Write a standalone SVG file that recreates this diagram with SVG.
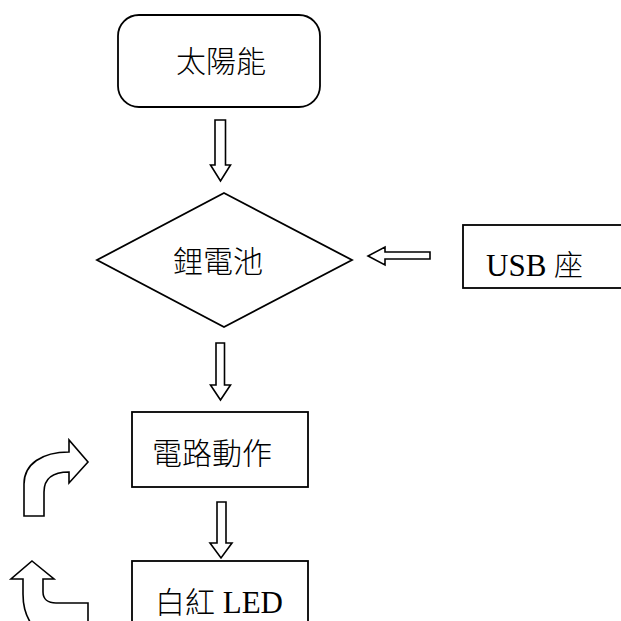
<svg xmlns="http://www.w3.org/2000/svg" width="621" height="621" viewBox="0 0 621 621">
<style>
.shape{fill:#fff;stroke:#000;stroke-width:1.8}
.arrow{fill:#fff;stroke:#000;stroke-width:1.6;stroke-linejoin:miter}
.cjk{font-family:"Noto Sans CJK TC","Noto Sans CJK SC",sans-serif;font-size:30px;font-weight:300;fill:#000}
.mix{font-family:"Liberation Serif","Noto Sans CJK TC",serif;font-size:31px;fill:#000}
.cj{font-family:"Noto Sans CJK TC","Noto Sans CJK SC",sans-serif;font-weight:300}
</style>
<rect width="621" height="621" fill="#fff"/>
<g id="solar">
<rect class="shape" x="118" y="15" width="202" height="92" rx="21" ry="21"/>
<text class="cjk" x="221" y="72" text-anchor="middle">太陽能</text>
</g>
<g id="battery">
<polygon class="shape" points="224,193 352,260 224,327 97,260"/>
<text class="cjk" x="218" y="272" text-anchor="middle">鋰電池</text>
</g>
<g id="usb">
<rect class="shape" x="463" y="225" width="160" height="63"/>
<text class="mix" x="486" y="276">USB <tspan class="cj" font-size="29">座</tspan></text>
</g>
<g id="circuit">
<rect class="shape" x="132" y="412" width="176" height="75"/>
<text class="cjk" x="152" y="464">電路動作</text>
</g>
<g id="led">
<rect class="shape" x="132" y="561" width="176" height="80"/>
<text class="mix" x="155" y="613"><tspan class="cj" font-size="30">白紅</tspan> LED</text>
</g>
<g id="connectors">
<polygon class="arrow" points="215,120 225.5,120 225.5,165 230.5,165 220.5,181 210.5,165 215,165"/>
<polygon class="arrow" points="216,343 224.5,343 224.5,385 230.5,385 220.5,400 210.5,385 216,385"/>
<polygon class="arrow" points="217,502 226,502 226,543 232,543 221,558 210,543 217,543"/>
<polygon class="arrow" points="430,252 385,252 385,247 368,256 385,265 385,259 430,259"/>
<path class="arrow" d="M24,516 L24,484 C24,464 42,452 69,452 L69,440 L88,462 L69,483 L69,472 C54,472 44,478 44,492 L44,516 Z"/>
<path class="arrow" d="M32,561 L54,579 L43,579 L43,592 C43,599 48,603 56,603 L88,603 L88,640 L62,640 C38,640 23,620 23,594 L23,579 L11,579 Z"/>
</g>
</svg>
